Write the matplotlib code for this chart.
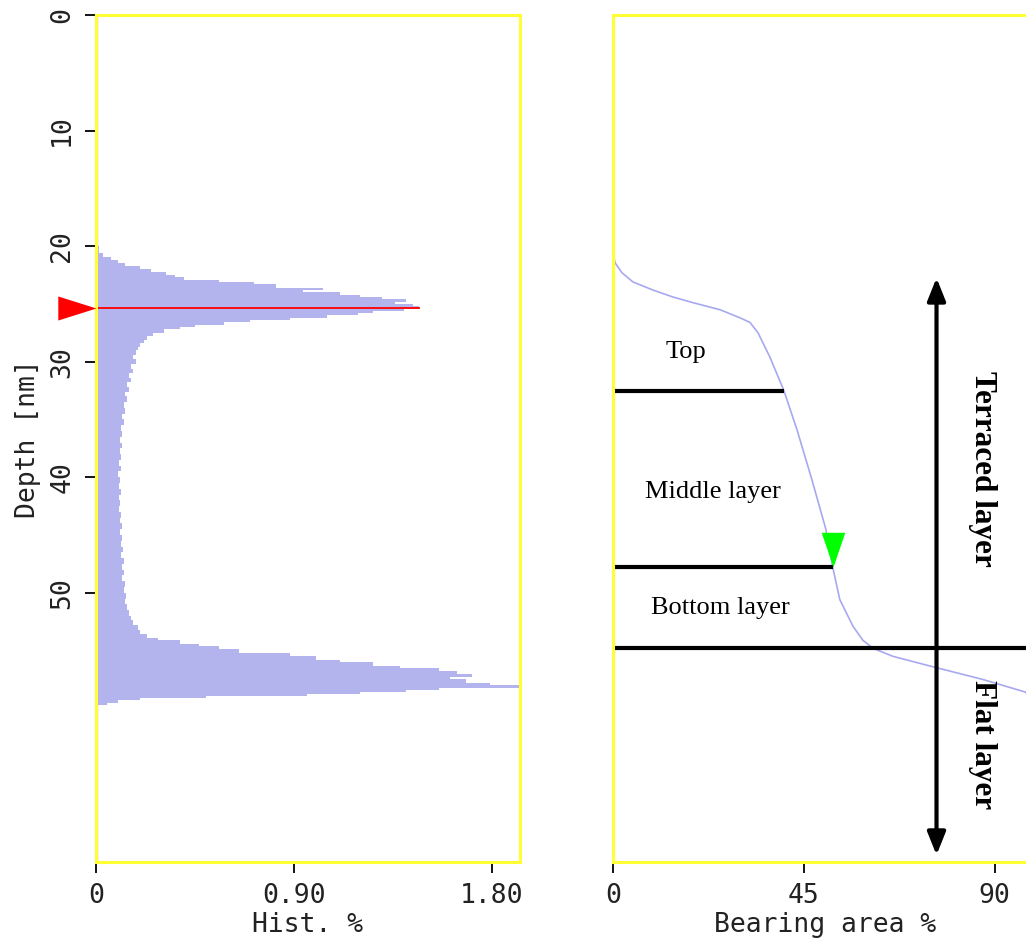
import matplotlib
matplotlib.use("Agg")
import matplotlib.pyplot as plt

# depth histogram (left panel): bin edges [nm] and Hist. % per bin
bin_depth = [19.4, 20.0, 20.6, 20.9, 21.2, 21.5, 21.7, 22.0, 22.2, 22.5, 22.7, 22.9,
             23.1, 23.3, 23.6, 23.8, 24.0, 24.2, 24.4, 24.6, 24.8, 25.0, 25.2, 25.4,
             25.6, 25.8, 26.0, 26.2, 26.4, 26.6, 26.8, 27.0, 27.2, 27.5, 27.8, 28.1,
             28.4, 28.7, 29.0, 29.4, 29.8, 30.2, 30.6, 31.0, 31.4, 31.8, 32.2, 32.6,
             33.0, 33.5, 34.0, 34.5, 35.0, 35.5, 36.0, 36.5, 37.0, 37.5, 38.0, 38.5,
             39.0, 39.5, 40.0, 40.5, 41.0, 41.5, 42.0, 42.5, 43.0, 43.5, 44.0, 44.5,
             45.0, 45.5, 46.0, 46.5, 47.0, 47.5, 48.0, 48.5, 49.0, 49.5, 50.0, 50.5,
             51.0, 51.5, 52.0, 52.4, 52.8, 53.2, 53.6, 53.9, 54.1, 54.4, 54.6, 54.9,
             55.2, 55.5, 55.8, 56.0, 56.3, 56.5, 56.8, 57.0, 57.3, 57.5, 57.8, 58.0,
             58.2, 58.4, 58.6, 58.8, 58.9, 59.1, 59.3, 59.5, 59.7, 60.0]
hist_pct = [0.005, 0.015, 0.03, 0.07, 0.10, 0.13, 0.20, 0.25, 0.32, 0.36, 0.40, 0.56,
            0.72, 0.82, 1.03, 0.94, 1.11, 1.20, 1.30, 1.41, 1.36, 1.44, 1.47, 1.40,
            1.26, 1.19, 1.05, 0.88, 0.70, 0.58, 0.45, 0.38, 0.31, 0.26, 0.23, 0.22,
            0.20, 0.19, 0.18, 0.17, 0.18, 0.16, 0.17, 0.15, 0.16, 0.14, 0.15, 0.13,
            0.14, 0.125, 0.13, 0.12, 0.125, 0.115, 0.12, 0.11, 0.118, 0.11, 0.115, 0.105,
            0.112, 0.10, 0.11, 0.105, 0.113, 0.104, 0.11, 0.106, 0.115, 0.108, 0.117, 0.11,
            0.12, 0.113, 0.122, 0.115, 0.125, 0.118, 0.128, 0.12, 0.13, 0.125, 0.135, 0.13,
            0.14, 0.15, 0.16, 0.17, 0.19, 0.20, 0.23, 0.28, 0.38, 0.47, 0.56, 0.65,
            0.88, 1.00, 1.11, 1.26, 1.38, 1.56, 1.64, 1.71, 1.61, 1.68, 1.79, 1.93,
            1.56, 1.41, 1.20, 0.96, 0.50, 0.20, 0.10, 0.05, 0.01]

# bearing area curve (right panel)
bearing_pct = [0, 0, 0, 0.5, 2.1, 4.7, 9.4, 14.1, 18.9, 25.2, 29.9, 32.3, 34.2, 37.0,
               40.3, 43.4, 46.9, 50.2, 51.8, 53.5, 56.6, 58.9, 61.3, 66.0, 75.4, 87.2,
               97.3, 100, 100]
bearing_depth = [0, 20.1, 20.6, 21.45, 22.3, 23.1, 23.8, 24.4, 24.9, 25.5, 26.2, 26.6,
                 27.5, 29.6, 32.5, 35.9, 40.2, 44.5, 47.75, 50.6, 52.9, 54.1, 54.8,
                 55.5, 56.4, 57.5, 58.6, 60.0, 73.3]

peak_depth = 25.35          # red marker / line
peak_line_end = 1.47
mean_mark = (51.8, 47.75)   # green marker (bearing %, depth)

layer_depth = [32.5, 47.75, 54.8]
layer_end = [40.3, 51.8, 100]
layer_names = ["Top", "Middle layer", "Bottom layer"]
layer_text_x = [17.2, 23.6, 25.4]
layer_text_y = [29.2, 41.3, 51.3]

arrow_x = 76.3
arrow_top, arrow_bottom = 22.75, 72.7
zone_names = ["Terraced layer", "Flat layer"]
zone_y = [39.3, 63.1]

depth_max = 73.3
mono = "DejaVu Sans Mono"
serif = "Liberation Serif"
yellow = "#ffff33"
lavender = "#b3b3ee"

fig = plt.figure(figsize=(10.26, 9.44), dpi=100)
ax1 = fig.add_axes([96 / 1026, 82 / 944, 424 / 1026, 847 / 944])
ax2 = fig.add_axes([613 / 1026, 82 / 944, 424 / 1026, 847 / 944])

# left: histogram
ax1.stairs(hist_pct, bin_depth, orientation="horizontal", fill=True,
           color=lavender, lw=0)
ax1.plot([0.004, 0.004], [0, depth_max], color=lavender, lw=1)
ax1.plot([0, peak_line_end], [peak_depth, peak_depth], color="red", lw=1.3)
ax1.scatter([0], [peak_depth], s=55 ** 2, color="red", clip_on=False, zorder=5,
            marker=[(0, 0), (-2, 0.63), (-2, -0.63)], linewidths=0)
ax1.set_xlim(0, 1.927)
ax1.set_ylim(depth_max, 0)
ax1.set_xticks([0, 0.9, 1.8])
ax1.set_xticklabels(["0", "0.90", "1.80"])
ax1.set_yticks([0, 10, 20, 30, 40, 50])
for lab in ax1.get_yticklabels():
    lab.set_rotation(90)
    lab.set_va("center")
ax1.set_xlabel("Hist. %", fontsize=19, family=mono, labelpad=2, color="#222222")
ax1.set_ylabel("Depth [nm]", fontsize=19, family=mono, labelpad=6, color="#222222")

# right: bearing area
ax2.plot(bearing_pct, bearing_depth, color="#a8a8f0", lw=1.2)
for d, e in zip(layer_depth, layer_end):
    ax2.plot([0, e], [d, d], color="black", lw=3, clip_on=False, solid_capstyle="butt")
ax2.scatter([mean_mark[0]], [mean_mark[1]], s=50 ** 2, color="#00ff00", zorder=5,
            marker=[(0, 0), (-0.68, 2), (0.68, 2)], linewidths=0)
for name, tx, ty in zip(layer_names, layer_text_x, layer_text_y):
    ax2.text(tx, ty, name, ha="center", va="center", fontsize=19, family=serif)
ax2.annotate("", xy=(arrow_x, arrow_top), xytext=(arrow_x, arrow_bottom),
             arrowprops=dict(arrowstyle="<|-|>,head_length=0.55,head_width=0.22",
                             lw=3, color="black", mutation_scale=25,
                             shrinkA=0, shrinkB=0))
for name, ty in zip(zone_names, zone_y):
    ax2.text(87.2, ty, name, rotation=-90, ha="center", va="center",
             fontsize=22.5, family=serif, fontweight="bold")
ax2.set_xlim(0, 100)
ax2.set_ylim(depth_max, 0)
ax2.set_xticks([0, 45, 90])
ax2.set_xticklabels(["0", "45", "90"])
ax2.set_yticks([])
ax2.set_xlabel("Bearing area %", fontsize=19, family=mono, labelpad=2, color="#222222")

for ax in (ax1, ax2):
    for sp in ax.spines.values():
        sp.set_color(yellow)
        sp.set_linewidth(2.2)
    ax.tick_params(length=8, width=1.3, color="black", pad=7, labelsize=19,
                   labelcolor="#222222")
    for lab in ax.get_xticklabels() + ax.get_yticklabels():
        lab.set_family(mono)

fig.savefig("out.png", dpi=100)
